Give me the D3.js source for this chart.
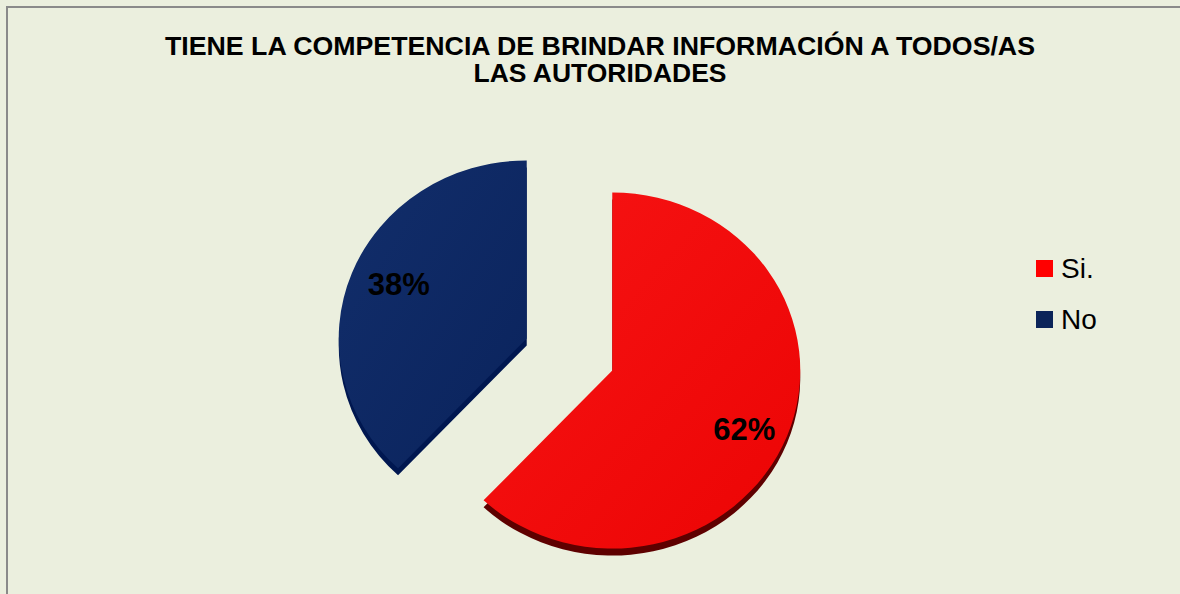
<!DOCTYPE html>
<html><head><meta charset="utf-8">
<script src="https://cdn.jsdelivr.net/npm/d3@7"></script>
<style>html,body{margin:0;padding:0;background:#EBEFDE;}svg{display:block;}</style>
</head><body>
<script>
const titleLines = ["TIENE LA COMPETENCIA DE BRINDAR INFORMACIÓN A TODOS/AS", "LAS AUTORIDADES"];
const categories = ["Si.", "No"];
const values = [62, 38];
const labels = ["62%", "38%"];
const faceColors = [["#F71414", "#EC0404"], ["#122E6B", "#0A235C"]];
const depthColors = ["#5E0000", "#001750"];
const legendColors = ["#FF0000", "#0B2459"];

const W = 1180, H = 594;
const svg = d3.select("body").append("svg").attr("width", W).attr("height", H);
svg.append("rect").attr("x", 0).attr("y", 0).attr("width", W).attr("height", H).attr("fill", "#EBEFDE");
svg.append("rect").attr("x", 7).attr("y", 7).attr("width", W + 20).attr("height", H + 20)
  .attr("fill", "#EBEFDE").attr("stroke", "#8A8A8A").attr("stroke-width", 2);

const defs = svg.append("defs");
faceColors.forEach((c, i) => {
  const g = defs.append("linearGradient").attr("id", "g" + i).attr("x1", "0").attr("y1", "0").attr("x2", "1").attr("y2", "1");
  g.append("stop").attr("offset", "0").attr("stop-color", c[0]);
  g.append("stop").attr("offset", "1").attr("stop-color", c[1]);
});

// Title
const tw = [870, 253];
titleLines.forEach((t, i) => {
  svg.append("text").attr("x", 600).attr("y", 55 + i * 27).attr("text-anchor", "middle")
    .attr("font-family", "Liberation Sans, Arial, sans-serif").attr("font-weight", "bold")
    .attr("font-size", 25).attr("fill", "#000")
    .attr("textLength", tw[i]).attr("lengthAdjust", "spacingAndGlyphs").text(t);
});

// Pie
const cx = 569.5, cy = 354.5, R = 188, ys = 0.947, explode = 46, depth = 7;
const pie = d3.pie().sort(null).value(d => d);
const arcs = pie(values);
const arc = d3.arc().innerRadius(0).outerRadius(R);
const lblArc = d3.arc().innerRadius(142).outerRadius(142);

const gPie = svg.append("g").attr("transform", `translate(${cx},${cy})`);
const slices = gPie.selectAll("g.slice").data(arcs).join("g").attr("class", "slice")
  .attr("transform", d => {
    const a = (d.startAngle + d.endAngle) / 2;
    return `translate(${Math.sin(a) * explode},${-Math.cos(a) * explode * ys})`;
  });
// depth
slices.append("path").attr("d", arc).attr("fill", (d, i) => depthColors[i])
  .attr("transform", `translate(0,${depth}) scale(1,${ys})`);
// face
slices.append("path").attr("d", arc).attr("fill", (d, i) => `url(#g${i})`)
  .attr("transform", `scale(1,${ys})`);
// labels
const lblOff = [[0, 9], [4, -4]];
slices.append("text")
  .attr("x", (d, i) => lblArc.centroid(d)[0] + lblOff[i][0])
  .attr("y", (d, i) => lblArc.centroid(d)[1] * ys + lblOff[i][1])
  .attr("text-anchor", "middle").attr("dominant-baseline", "central")
  .attr("font-family", "Liberation Sans, Arial, sans-serif").attr("font-weight", "bold")
  .attr("font-size", 31).attr("fill", "#000").text((d, i) => labels[i]);

// Legend
const leg = svg.append("g");
categories.forEach((c, i) => {
  const y = 260 + i * 51;
  leg.append("rect").attr("x", 1036).attr("y", y).attr("width", 17).attr("height", 17).attr("fill", legendColors[i]);
  leg.append("text").attr("x", 1061).attr("y", y + 18).attr("font-family", "Liberation Sans, Arial, sans-serif")
    .attr("font-size", 28).attr("fill", "#000").text(c);
});
</script>
</body></html>
